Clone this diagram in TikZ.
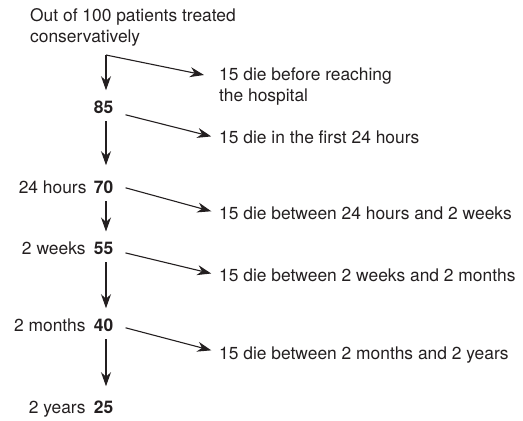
\documentclass[tikz,border=0pt]{standalone}
\usepackage{fontspec}
\setmainfont{TeX Gyre Heros}
\usetikzlibrary{arrows.meta,positioning}
\definecolor{ink}{HTML}{231F20}

\begin{document}
\begin{tikzpicture}[x=1pt,y=-1pt,
    every node/.style={inner sep=0pt, text=ink, font=\fontsize{17.4}{21}\selectfont},
    arr/.style={draw=ink, line width=1.1pt, -{Stealth[length=14pt,width=10pt,inset=4.5pt]}},
    down/.style={arr, shorten <=8pt, shorten >=10pt},
    side/.style={arr, shorten >=8pt}]
  \useasboundingbox (0,0) rectangle (523,421);

  \node (intro) [anchor=north west, align=left] at (30,8) {Out of 100 patients treated\\conservatively};
  \coordinate (c0) at (106,55);

  \node (n85) [anchor=base east] at (113.5,113) {\textbf{85}};
  \node (n70) [anchor=base east] at (113.5,193) {\textbf{70}};
  \node (n55) [anchor=base east] at (113.5,254) {\textbf{55}};
  \node (n40) [anchor=base east] at (113.5,331) {\textbf{40}};
  \node (n25) [anchor=base east] at (113.5,413) {\textbf{25}};

  \node (l70) [base left=7pt of n70] {24 hours};
  \node (l55) [base left=8pt of n55] {2 weeks};
  \node (l40) [base left=8pt of n40] {2 months};
  \node (l25) [base left=8pt of n25] {2 years};

  \node (d0) [anchor=north west, align=left] at (219,68) {15 die before reaching\\the hospital};
  \node (d1) [anchor=base west] at (219,143) {15 die in the first 24 hours};
  \node (d2) [anchor=base west] at (219,219) {15 die between 24 hours and 2 weeks};
  \node (d3) [anchor=base west] at (219,281) {15 die between 2 weeks and 2 months};
  \node (d4) [anchor=base west] at (219,359) {15 die between 2 months and 2 years};

  \draw[arr, shorten >=10pt] (c0) -- (n85.north -| c0);
  \draw[arr] (c0) -- ([xshift=-15pt,yshift=-7pt]d0.north west);

  \draw[down, shorten >=15pt] (n85.south -| c0) -- (n70.north -| c0);
  \draw[down] (n70.south -| c0) -- (n55.north -| c0);
  \draw[down] (n55.south -| c0) -- (n40.north -| c0);
  \draw[down, shorten >=14pt] (n40.south -| c0) -- (n25.north -| c0);

  \draw[side] ([xshift=12pt,yshift=-8pt]n85.east) -- ([yshift=2pt]d1.mid west);
  \draw[side] ([xshift=12pt,yshift=-1pt]n70.east) -- ([yshift=3pt]d2.mid west);
  \draw[side] ([xshift=12pt,yshift=-5pt]n55.east) -- ([yshift=3pt]d3.mid west);
  \draw[side] ([xshift=12pt,yshift=-3pt]n40.east) -- ([yshift=4pt]d4.mid west);
\end{tikzpicture}
\end{document}
